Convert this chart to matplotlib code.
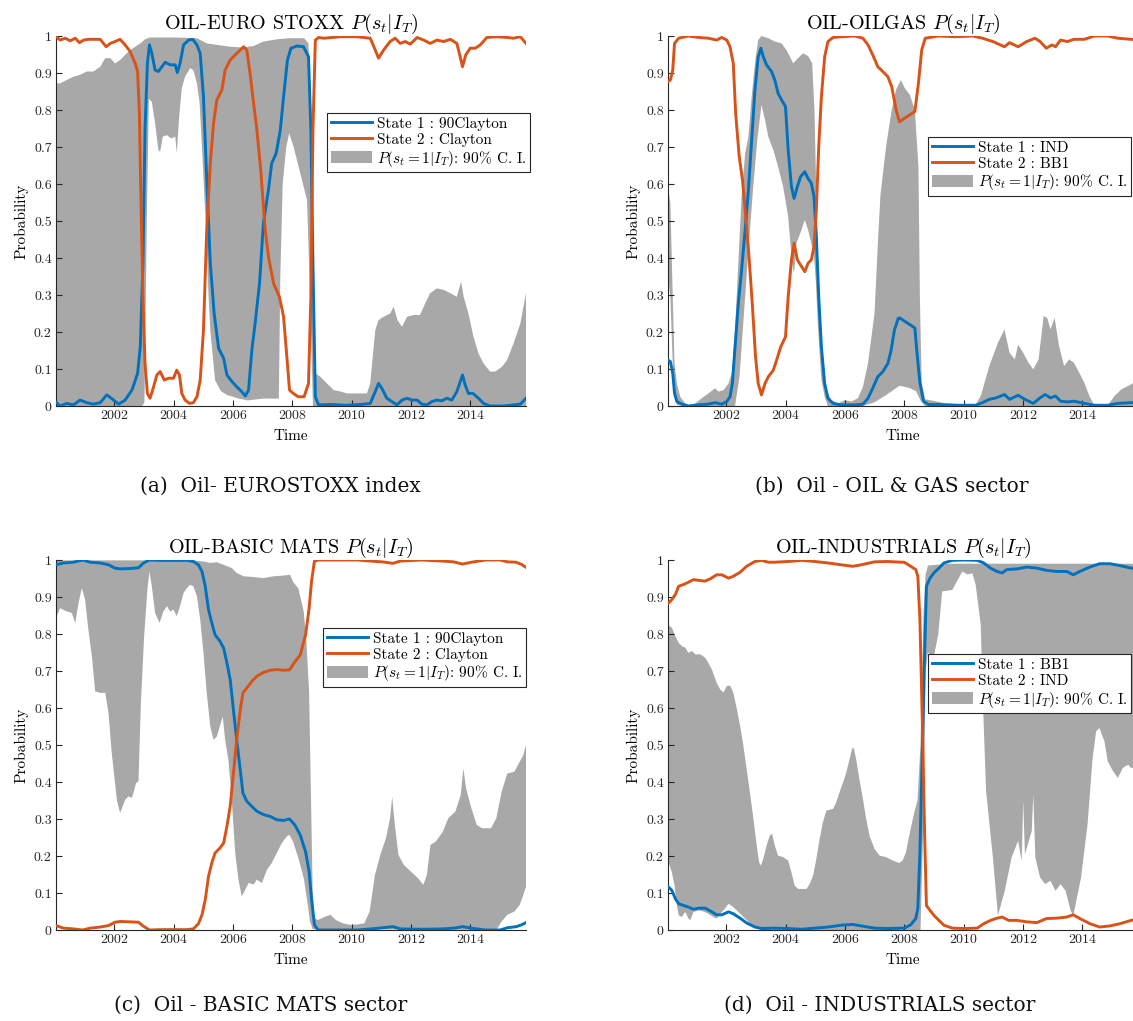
import numpy as np
import matplotlib
matplotlib.use("Agg")
import matplotlib.pyplot as plt
from matplotlib.lines import Line2D
from matplotlib.patches import Patch

plt.rcParams['font.family'] = ['cmr10', 'DejaVu Serif']
plt.rcParams['mathtext.fontset'] = 'cm'
plt.rcParams['axes.formatter.use_mathtext'] = True

BLUE = '#0072BD'
ORANGE = '#D95319'
GREY = '#A8A8A8'
DARK = '#262626'

x_ticks = [2002, 2004, 2006, 2008, 2010, 2012, 2014]
y_ticks = [0, 0.1, 0.2, 0.3, 0.4, 0.5, 0.6, 0.7, 0.8, 0.9, 1]
y_tick_labels = ['0', '0.1', '0.2', '0.3', '0.4', '0.5', '0.6', '0.7', '0.8', '0.9', '1']

#--------------------------------------------------------------#
# (a) OIL - EURO STOXX
eu_s1 = [(2000.04, 0.01), (2000.18, 0.0), (2000.40, 0.007), (2000.63, 0.003), (2000.85, 0.016),
         (2001.08, 0.009), (2001.30, 0.005), (2001.53, 0.009), (2001.75, 0.03), (2001.92, 0.02),
         (2002.15, 0.005), (2002.37, 0.016), (2002.60, 0.043), (2002.79, 0.088), (2002.88, 0.16),
         (2002.97, 0.386), (2003.04, 0.746), (2003.12, 0.926), (2003.19, 0.976), (2003.27, 0.953),
         (2003.38, 0.908), (2003.49, 0.904), (2003.61, 0.917), (2003.72, 0.929), (2003.89, 0.922),
         (2004.06, 0.922), (2004.13, 0.901), (2004.22, 0.926), (2004.34, 0.976), (2004.51, 0.989),
         (2004.65, 0.991), (2004.79, 0.976), (2004.90, 0.953), (2005.01, 0.836), (2005.12, 0.611),
         (2005.24, 0.386), (2005.37, 0.25), (2005.52, 0.156), (2005.69, 0.129), (2005.80, 0.084),
         (2005.97, 0.066), (2006.13, 0.052), (2006.30, 0.039), (2006.42, 0.027), (2006.53, 0.043),
         (2006.64, 0.151), (2006.75, 0.223), (2006.90, 0.332), (2007.03, 0.494), (2007.20, 0.584),
         (2007.31, 0.656), (2007.46, 0.683), (2007.60, 0.746), (2007.71, 0.836), (2007.84, 0.935),
         (2007.96, 0.967), (2008.16, 0.973), (2008.38, 0.971), (2008.55, 0.944), (2008.63, 0.746),
         (2008.70, 0.386), (2008.78, 0.025), (2008.89, 0.003), (2009.30, 0.004), (2009.80, 0.002),
         (2010.30, 0.004), (2010.63, 0.007), (2010.80, 0.039), (2010.91, 0.061), (2011.02, 0.048),
         (2011.19, 0.021), (2011.36, 0.012), (2011.53, 0.003), (2011.70, 0.016), (2011.87, 0.021),
         (2012.04, 0.016), (2012.21, 0.016), (2012.37, 0.005), (2012.54, 0.003), (2012.71, 0.012),
         (2012.88, 0.016), (2013.04, 0.014), (2013.21, 0.021), (2013.38, 0.016), (2013.55, 0.039),
         (2013.74, 0.084), (2013.83, 0.057), (2013.94, 0.034), (2014.09, 0.034), (2014.28, 0.021),
         (2014.45, 0.007), (2014.67, 0.0), (2015.12, 0.0), (2015.46, 0.003), (2015.69, 0.005),
         (2015.88, 0.021)]
eu_s2 = [(2000.04, 0.998), (2000.18, 0.989), (2000.35, 0.994), (2000.52, 0.987), (2000.69, 0.994),
         (2000.83, 0.982), (2000.97, 0.989), (2001.13, 0.991), (2001.30, 0.991), (2001.53, 0.991),
         (2001.73, 0.971), (2001.87, 0.98), (2002.03, 0.985), (2002.20, 0.991), (2002.37, 0.976),
         (2002.54, 0.958), (2002.71, 0.926), (2002.79, 0.904), (2002.85, 0.791), (2002.90, 0.566),
         (2002.97, 0.295), (2003.04, 0.115), (2003.12, 0.034), (2003.21, 0.021), (2003.33, 0.052),
         (2003.44, 0.084), (2003.55, 0.093), (2003.69, 0.07), (2003.83, 0.075), (2004.00, 0.075),
         (2004.11, 0.097), (2004.20, 0.084), (2004.28, 0.034), (2004.39, 0.016), (2004.54, 0.007),
         (2004.67, 0.009), (2004.79, 0.025), (2004.90, 0.07), (2005.01, 0.205), (2005.12, 0.476),
         (2005.24, 0.656), (2005.35, 0.764), (2005.46, 0.827), (2005.63, 0.854), (2005.74, 0.908),
         (2005.91, 0.935), (2006.08, 0.949), (2006.25, 0.962), (2006.36, 0.971), (2006.47, 0.962),
         (2006.58, 0.899), (2006.70, 0.818), (2006.81, 0.746), (2006.94, 0.638), (2007.09, 0.476),
         (2007.20, 0.404), (2007.37, 0.332), (2007.57, 0.295), (2007.71, 0.241), (2007.82, 0.133),
         (2007.91, 0.043), (2008.04, 0.034), (2008.20, 0.025), (2008.40, 0.025), (2008.55, 0.061),
         (2008.63, 0.295), (2008.70, 0.746), (2008.78, 0.989), (2008.89, 0.996), (2009.07, 0.994),
         (2009.63, 0.998), (2010.18, 0.998), (2010.63, 0.994), (2010.80, 0.962), (2010.91, 0.94),
         (2011.08, 0.962), (2011.30, 0.985), (2011.47, 0.994), (2011.64, 0.98), (2011.81, 0.985),
         (2011.98, 0.978), (2012.21, 0.996), (2012.43, 0.989), (2012.65, 0.98), (2012.88, 0.989),
         (2013.10, 0.985), (2013.33, 0.991), (2013.55, 0.98), (2013.66, 0.944), (2013.74, 0.917),
         (2013.85, 0.949), (2014.00, 0.967), (2014.17, 0.967), (2014.34, 0.976), (2014.56, 0.996),
         (2014.90, 0.998), (2015.24, 0.996), (2015.46, 0.994), (2015.69, 0.998), (2015.88, 0.98)]
eu_hi = [(2000.04, 0.872), (2000.18, 0.872), (2000.40, 0.881), (2000.63, 0.89), (2000.85, 0.895),
         (2001.08, 0.904), (2001.30, 0.904), (2001.53, 0.917), (2001.70, 0.94), (2001.87, 0.94),
         (2002.03, 0.926), (2002.20, 0.935), (2002.37, 0.949), (2002.54, 0.962), (2002.71, 0.971),
         (2002.88, 0.98), (2003.04, 0.991), (2003.21, 0.996), (2004.00, 0.996), (2004.50, 0.995),
         (2004.79, 0.994), (2005.12, 0.98), (2005.46, 0.976), (2005.91, 0.971), (2006.36, 0.969),
         (2006.70, 0.973), (2007.03, 0.985), (2007.48, 0.991), (2007.93, 0.994), (2008.40, 0.994),
         (2008.55, 0.98), (2008.62, 0.85), (2008.68, 0.5), (2008.74, 0.12), (2008.78, 0.088),
         (2008.95, 0.079), (2009.17, 0.061), (2009.40, 0.043), (2009.63, 0.039), (2009.85, 0.034),
         (2010.18, 0.034), (2010.52, 0.034), (2010.63, 0.061), (2010.80, 0.205), (2010.91, 0.232),
         (2011.08, 0.241), (2011.30, 0.25), (2011.42, 0.268), (2011.55, 0.232), (2011.70, 0.214),
         (2011.87, 0.241), (2012.09, 0.246), (2012.31, 0.246), (2012.48, 0.277), (2012.65, 0.305),
         (2012.88, 0.318), (2013.10, 0.314), (2013.33, 0.305), (2013.55, 0.295), (2013.69, 0.336),
         (2013.78, 0.295), (2013.94, 0.25), (2014.11, 0.187), (2014.28, 0.142), (2014.45, 0.115),
         (2014.67, 0.093), (2014.84, 0.093), (2015.07, 0.106), (2015.24, 0.124), (2015.46, 0.169),
         (2015.69, 0.223), (2015.88, 0.305)]
eu_lo = [(2000.04, 0.0), (2002.95, 0.0), (2003.02, 0.01), (2003.10, 0.5), (2003.17, 0.83),
         (2003.27, 0.822), (2003.38, 0.764), (2003.49, 0.692), (2003.55, 0.687), (2003.64, 0.728),
         (2003.78, 0.732), (2003.92, 0.723), (2004.06, 0.728), (2004.11, 0.683), (2004.20, 0.791),
         (2004.28, 0.859), (2004.39, 0.89), (2004.56, 0.913), (2004.67, 0.908), (2004.79, 0.872),
         (2004.88, 0.818), (2004.96, 0.70), (2005.05, 0.55), (2005.10, 0.476), (2005.18, 0.3),
         (2005.24, 0.205), (2005.40, 0.07), (2005.60, 0.04), (2005.80, 0.03), (2006.20, 0.02),
         (2006.50, 0.015), (2007.00, 0.02), (2007.55, 0.02), (2007.60, 0.35), (2007.68, 0.6),
         (2007.80, 0.70), (2007.90, 0.737), (2008.05, 0.70), (2008.30, 0.62), (2008.50, 0.557),
         (2008.60, 0.3), (2008.70, 0.0), (2015.88, 0.0)]

#--------------------------------------------------------------#
# (b) OIL - OILGAS
og_s1 = [(2000.04, 0.124), (2000.12, 0.12), (2000.20, 0.088), (2000.26, 0.034), (2000.34, 0.012),
         (2000.51, 0.005), (2000.73, 0.0), (2001.07, 0.003), (2001.40, 0.005), (2001.63, 0.009),
         (2001.85, 0.005), (2002.02, 0.012), (2002.13, 0.025), (2002.21, 0.061), (2002.30, 0.16),
         (2002.41, 0.277), (2002.52, 0.368), (2002.64, 0.476), (2002.75, 0.584), (2002.86, 0.719),
         (2002.97, 0.854), (2003.08, 0.944), (2003.17, 0.967), (2003.25, 0.944), (2003.36, 0.922),
         (2003.53, 0.904), (2003.64, 0.881), (2003.75, 0.845), (2003.87, 0.827), (2004.00, 0.809),
         (2004.09, 0.692), (2004.20, 0.593), (2004.29, 0.561), (2004.40, 0.593), (2004.51, 0.62),
         (2004.65, 0.633), (2004.76, 0.615), (2004.87, 0.602), (2004.96, 0.566), (2005.04, 0.458),
         (2005.12, 0.295), (2005.21, 0.16), (2005.32, 0.061), (2005.43, 0.021), (2005.60, 0.007),
         (2005.88, 0.003), (2006.33, 0.003), (2006.61, 0.005), (2006.78, 0.021), (2006.94, 0.048),
         (2007.11, 0.079), (2007.28, 0.093), (2007.45, 0.115), (2007.56, 0.151), (2007.67, 0.205),
         (2007.80, 0.237), (2007.85, 0.238), (2008.02, 0.229), (2008.19, 0.22), (2008.36, 0.211),
         (2008.42, 0.153), (2008.53, 0.063), (2008.65, 0.013), (2008.82, 0.004), (2009.16, 0.004),
         (2009.73, 0.002), (2010.41, 0.002), (2010.64, 0.009), (2010.87, 0.018), (2011.10, 0.022),
         (2011.38, 0.031), (2011.55, 0.018), (2011.84, 0.029), (2012.07, 0.018), (2012.35, 0.007),
         (2012.58, 0.022), (2012.75, 0.031), (2012.93, 0.022), (2013.10, 0.027), (2013.27, 0.013),
         (2013.50, 0.011), (2013.72, 0.013), (2014.07, 0.007), (2014.41, 0.002), (2014.86, 0.002),
         (2015.20, 0.007), (2015.64, 0.009), (2015.88, 0.01)]
og_s2 = [(2000.04, 0.877), (2000.12, 0.881), (2000.20, 0.908), (2000.26, 0.98), (2000.40, 0.994),
         (2000.73, 1.0), (2001.07, 0.996), (2001.40, 0.994), (2001.68, 0.989), (2001.85, 0.996),
         (2002.02, 0.989), (2002.13, 0.971), (2002.24, 0.926), (2002.32, 0.791), (2002.44, 0.674),
         (2002.55, 0.611), (2002.66, 0.512), (2002.77, 0.404), (2002.88, 0.277), (2002.99, 0.133),
         (2003.08, 0.061), (2003.19, 0.03), (2003.31, 0.061), (2003.42, 0.079), (2003.59, 0.097),
         (2003.70, 0.124), (2003.84, 0.16), (2004.00, 0.187), (2004.09, 0.295), (2004.20, 0.395),
         (2004.29, 0.44), (2004.40, 0.395), (2004.54, 0.377), (2004.65, 0.363), (2004.76, 0.386),
         (2004.87, 0.395), (2004.96, 0.431), (2005.04, 0.53), (2005.12, 0.701), (2005.21, 0.836),
         (2005.32, 0.944), (2005.43, 0.985), (2005.60, 0.996), (2005.88, 0.998), (2006.33, 1.0),
         (2006.61, 0.994), (2006.78, 0.976), (2006.94, 0.949), (2007.11, 0.917), (2007.28, 0.904),
         (2007.45, 0.89), (2007.58, 0.863), (2007.73, 0.8), (2007.84, 0.768), (2008.02, 0.778),
         (2008.36, 0.796), (2008.48, 0.872), (2008.59, 0.962), (2008.71, 0.994), (2009.16, 1.0),
         (2009.73, 0.998), (2010.30, 1.0), (2010.64, 0.994), (2010.99, 0.985), (2011.38, 0.971),
         (2011.55, 0.982), (2011.84, 0.971), (2012.13, 0.985), (2012.41, 0.994), (2012.58, 0.985),
         (2012.79, 0.967), (2012.98, 0.976), (2013.10, 0.971), (2013.27, 0.989), (2013.50, 0.985),
         (2013.72, 0.991), (2014.07, 0.991), (2014.41, 1.0), (2014.86, 1.0), (2015.20, 0.994),
         (2015.64, 0.991), (2015.88, 0.99)]
og_hi = [(2000.04, 0.593), (2000.12, 0.548), (2000.20, 0.295), (2000.26, 0.115), (2000.34, 0.061),
         (2000.45, 0.025), (2000.62, 0.007), (2000.73, 0.0), (2000.96, 0.007), (2001.18, 0.021),
         (2001.40, 0.034), (2001.63, 0.048), (2001.74, 0.039), (2001.91, 0.043), (2002.08, 0.061),
         (2002.19, 0.088), (2002.30, 0.205), (2002.41, 0.386), (2002.52, 0.566), (2002.64, 0.683),
         (2002.75, 0.728), (2002.86, 0.836), (2002.97, 0.926), (2003.08, 0.989), (2003.19, 1.0),
         (2003.42, 0.994), (2003.64, 0.985), (2003.87, 0.98), (2004.03, 0.962), (2004.15, 0.944),
         (2004.26, 0.926), (2004.42, 0.94), (2004.59, 0.953), (2004.76, 0.946), (2004.90, 0.926),
         (2004.98, 0.791), (2005.04, 0.566), (2005.10, 0.386), (2005.19, 0.205), (2005.26, 0.115),
         (2005.38, 0.043), (2005.54, 0.016), (2005.77, 0.007), (2006.00, 0.016), (2006.22, 0.012),
         (2006.44, 0.021), (2006.61, 0.052), (2006.78, 0.115), (2007.00, 0.25), (2007.12, 0.45),
         (2007.20, 0.57), (2007.39, 0.701), (2007.56, 0.791), (2007.72, 0.854), (2007.89, 0.881),
         (2008.02, 0.859), (2008.19, 0.841), (2008.36, 0.8), (2008.48, 0.647), (2008.53, 0.288),
         (2008.59, 0.063), (2008.71, 0.018), (2009.05, 0.013), (2009.39, 0.007), (2010.41, 0.004),
         (2010.58, 0.027), (2010.87, 0.108), (2011.16, 0.171), (2011.38, 0.207), (2011.55, 0.144),
         (2011.73, 0.126), (2011.84, 0.166), (2012.01, 0.144), (2012.19, 0.117), (2012.35, 0.099),
         (2012.53, 0.126), (2012.70, 0.243), (2012.82, 0.238), (2012.93, 0.207), (2013.07, 0.238),
         (2013.22, 0.162), (2013.39, 0.108), (2013.56, 0.126), (2013.72, 0.117), (2013.90, 0.09),
         (2014.07, 0.063), (2014.24, 0.027), (2014.41, 0.002), (2014.86, 0.002), (2015.09, 0.027),
         (2015.32, 0.045), (2015.64, 0.058), (2015.88, 0.07)]
og_lo = [(2000.04, 0.35), (2000.12, 0.295), (2000.20, 0.115), (2000.26, 0.025), (2000.34, 0.003),
         (2000.50, 0.0), (2002.30, 0.0), (2002.45, 0.08), (2002.60, 0.25), (2002.75, 0.42),
         (2002.90, 0.58), (2003.05, 0.72), (2003.19, 0.814), (2003.31, 0.773), (2003.42, 0.728),
         (2003.59, 0.692), (2003.75, 0.647), (2003.92, 0.593), (2004.09, 0.512), (2004.22, 0.386),
         (2004.29, 0.359), (2004.37, 0.44), (2004.54, 0.476), (2004.65, 0.503), (2004.76, 0.476),
         (2004.87, 0.44), (2004.96, 0.404), (2005.02, 0.34), (2005.10, 0.205), (2005.21, 0.07),
         (2005.32, 0.025), (2005.43, 0.0), (2006.60, 0.0), (2007.00, 0.01), (2007.40, 0.03),
         (2007.85, 0.055), (2008.20, 0.048), (2008.40, 0.04), (2008.55, 0.015), (2008.70, 0.0),
         (2015.88, 0.0)]

#--------------------------------------------------------------#
# (c) OIL - BASIC MATS
bm_s1 = [(2000.04, 0.987), (2000.29, 0.992), (2000.63, 0.994), (2000.94, 1.0), (2001.19, 0.994),
         (2001.53, 0.992), (2001.81, 0.987), (2002.03, 0.978), (2002.20, 0.976), (2002.54, 0.977),
         (2002.82, 0.979), (2002.99, 0.992), (2003.19, 1.0), (2003.55, 0.999), (2004.00, 0.999),
         (2004.45, 0.999), (2004.67, 0.996), (2004.84, 0.987), (2004.96, 0.969), (2005.07, 0.929),
         (2005.18, 0.866), (2005.29, 0.83), (2005.40, 0.798), (2005.57, 0.78), (2005.69, 0.762),
         (2005.80, 0.722), (2005.91, 0.677), (2006.02, 0.595), (2006.13, 0.514), (2006.25, 0.433),
         (2006.34, 0.37), (2006.47, 0.348), (2006.64, 0.334), (2006.81, 0.321), (2007.03, 0.312),
         (2007.26, 0.307), (2007.48, 0.298), (2007.71, 0.296), (2007.91, 0.3), (2008.09, 0.284),
         (2008.27, 0.257), (2008.45, 0.212), (2008.57, 0.158), (2008.65, 0.086), (2008.75, 0.014),
         (2008.87, 0.0), (2009.59, 0.0), (2010.19, 0.0), (2010.67, 0.003), (2011.03, 0.006),
         (2011.40, 0.009), (2011.64, 0.003), (2012.36, 0.002), (2013.08, 0.003), (2013.44, 0.005),
         (2013.74, 0.009), (2014.04, 0.005), (2014.52, 0.0), (2015.01, 0.0), (2015.25, 0.006),
         (2015.55, 0.009), (2015.73, 0.014), (2015.88, 0.02)]
bm_s2 = [(2000.04, 0.012), (2000.29, 0.005), (2000.63, 0.003), (2000.94, 0.0), (2001.19, 0.005),
         (2001.53, 0.008), (2001.81, 0.012), (2002.03, 0.021), (2002.20, 0.023), (2002.54, 0.022),
         (2002.82, 0.021), (2002.99, 0.01), (2003.19, 0.0), (2003.55, 0.001), (2004.45, 0.001),
         (2004.67, 0.003), (2004.84, 0.017), (2004.96, 0.041), (2005.07, 0.082), (2005.18, 0.145),
         (2005.29, 0.181), (2005.40, 0.208), (2005.57, 0.222), (2005.69, 0.235), (2005.80, 0.28),
         (2005.91, 0.334), (2006.02, 0.424), (2006.13, 0.514), (2006.25, 0.595), (2006.34, 0.641),
         (2006.47, 0.654), (2006.64, 0.672), (2006.81, 0.686), (2007.03, 0.696), (2007.26, 0.702),
         (2007.48, 0.704), (2007.71, 0.702), (2007.91, 0.703), (2008.09, 0.725), (2008.27, 0.743),
         (2008.45, 0.797), (2008.57, 0.869), (2008.65, 0.941), (2008.75, 0.997), (2008.87, 1.0),
         (2010.19, 1.0), (2010.67, 0.997), (2011.03, 0.995), (2011.40, 0.991), (2011.64, 0.997),
         (2012.36, 1.0), (2013.08, 0.997), (2013.44, 0.995), (2013.74, 0.989), (2014.04, 0.994),
         (2014.52, 1.0), (2015.01, 1.0), (2015.25, 0.995), (2015.55, 0.994), (2015.73, 0.988),
         (2015.88, 0.98)]
bm_hi = [(2000.04, 0.999), (2004.60, 0.999), (2005.01, 0.996), (2005.24, 0.992), (2005.46, 0.994),
         (2005.69, 0.987), (2005.97, 0.978), (2006.13, 0.965), (2006.36, 0.956), (2006.70, 0.954),
         (2007.03, 0.951), (2007.37, 0.956), (2007.71, 0.958), (2007.93, 0.96), (2008.03, 0.941),
         (2008.21, 0.923), (2008.39, 0.86), (2008.48, 0.779), (2008.57, 0.644), (2008.63, 0.374),
         (2008.69, 0.104), (2008.75, 0.032), (2008.87, 0.027), (2009.11, 0.036), (2009.29, 0.041),
         (2009.47, 0.027), (2009.71, 0.018), (2009.95, 0.014), (2010.19, 0.015), (2010.43, 0.018),
         (2010.61, 0.05), (2010.79, 0.149), (2010.97, 0.203), (2011.16, 0.248), (2011.30, 0.302),
         (2011.37, 0.36), (2011.46, 0.284), (2011.58, 0.203), (2011.76, 0.176), (2012.00, 0.158),
         (2012.24, 0.14), (2012.42, 0.122), (2012.54, 0.149), (2012.66, 0.23), (2012.84, 0.239),
         (2013.08, 0.266), (2013.26, 0.302), (2013.50, 0.32), (2013.68, 0.365), (2013.77, 0.437),
         (2013.86, 0.383), (2014.04, 0.329), (2014.22, 0.284), (2014.40, 0.275), (2014.70, 0.275),
         (2014.88, 0.302), (2015.06, 0.374), (2015.25, 0.423), (2015.49, 0.428), (2015.67, 0.455),
         (2015.79, 0.473), (2015.88, 0.5)]
bm_lo = [(2000.04, 0.843), (2000.18, 0.87), (2000.40, 0.861), (2000.57, 0.857), (2000.69, 0.83),
         (2000.80, 0.884), (2000.91, 0.924), (2001.02, 0.893), (2001.13, 0.812), (2001.25, 0.74),
         (2001.36, 0.645), (2001.53, 0.641), (2001.70, 0.641), (2001.81, 0.586), (2001.92, 0.478),
         (2002.09, 0.352), (2002.20, 0.316), (2002.37, 0.352), (2002.48, 0.361), (2002.60, 0.357),
         (2002.74, 0.397), (2002.82, 0.402), (2002.90, 0.613), (2003.01, 0.793), (2003.12, 0.92),
         (2003.19, 0.969), (2003.27, 0.929), (2003.38, 0.857), (2003.53, 0.83), (2003.66, 0.861),
         (2003.78, 0.875), (2003.89, 0.861), (2004.00, 0.866), (2004.11, 0.848), (2004.22, 0.875),
         (2004.34, 0.911), (2004.45, 0.924), (2004.56, 0.933), (2004.67, 0.929), (2004.79, 0.902),
         (2004.90, 0.839), (2005.01, 0.749), (2005.12, 0.641), (2005.24, 0.55), (2005.35, 0.514),
         (2005.46, 0.523), (2005.66, 0.577), (2005.74, 0.514), (2005.85, 0.46), (2005.97, 0.343),
         (2006.08, 0.208), (2006.19, 0.136), (2006.30, 0.091), (2006.42, 0.109), (2006.53, 0.127),
         (2006.70, 0.123), (2006.81, 0.136), (2006.98, 0.127), (2007.15, 0.163), (2007.31, 0.181),
         (2007.48, 0.208), (2007.65, 0.235), (2007.82, 0.253), (2007.91, 0.257), (2008.03, 0.239),
         (2008.21, 0.194), (2008.39, 0.14), (2008.51, 0.077), (2008.60, 0.023), (2008.69, 0.002),
         (2014.88, 0.0), (2015.06, 0.023), (2015.25, 0.041), (2015.49, 0.05), (2015.67, 0.068),
         (2015.79, 0.095), (2015.88, 0.117)]

#--------------------------------------------------------------#
# (d) OIL - INDUSTRIALS
in_s1 = [(2000.06, 0.116), (2000.17, 0.107), (2000.29, 0.084), (2000.40, 0.071), (2000.57, 0.066),
         (2000.73, 0.062), (2000.90, 0.056), (2001.07, 0.059), (2001.29, 0.059), (2001.52, 0.049),
         (2001.68, 0.041), (2001.85, 0.041), (2002.08, 0.049), (2002.24, 0.044), (2002.47, 0.032),
         (2002.69, 0.019), (2002.97, 0.008), (2003.19, 0.004), (2003.64, 0.005), (2004.09, 0.004),
         (2004.54, 0.002), (2004.98, 0.005), (2005.43, 0.008), (2005.88, 0.013), (2006.27, 0.015),
         (2006.55, 0.011), (2007.00, 0.005), (2007.45, 0.004), (2007.89, 0.005), (2008.00, 0.005),
         (2008.22, 0.014), (2008.39, 0.031), (2008.46, 0.058), (2008.53, 0.21), (2008.61, 0.48),
         (2008.69, 0.749), (2008.75, 0.929), (2008.87, 0.951), (2009.00, 0.965), (2009.17, 0.978),
         (2009.34, 0.992), (2009.62, 0.999), (2010.01, 1.0), (2010.46, 0.999), (2010.68, 0.992),
         (2010.91, 0.978), (2011.13, 0.969), (2011.30, 0.965), (2011.46, 0.974), (2011.80, 0.976),
         (2012.13, 0.981), (2012.47, 0.978), (2012.80, 0.972), (2013.14, 0.969), (2013.48, 0.969),
         (2013.70, 0.96), (2013.92, 0.969), (2014.26, 0.981), (2014.59, 0.99), (2014.93, 0.99),
         (2015.27, 0.985), (2015.65, 0.978), (2015.88, 0.975)]
in_s2 = [(2000.06, 0.884), (2000.17, 0.893), (2000.29, 0.907), (2000.40, 0.929), (2000.57, 0.934),
         (2000.73, 0.94), (2000.90, 0.947), (2001.07, 0.945), (2001.29, 0.943), (2001.46, 0.949),
         (2001.68, 0.96), (2001.85, 0.96), (2002.08, 0.951), (2002.24, 0.956), (2002.47, 0.967),
         (2002.69, 0.983), (2002.97, 0.996), (2003.19, 0.999), (2003.42, 0.994), (2003.64, 0.994),
         (2004.09, 0.996), (2004.54, 0.999), (2004.98, 0.996), (2005.43, 0.992), (2005.88, 0.987),
         (2006.27, 0.983), (2006.55, 0.987), (2007.00, 0.995), (2007.45, 0.996), (2007.89, 0.994),
         (2008.00, 0.994), (2008.22, 0.983), (2008.39, 0.974), (2008.46, 0.956), (2008.53, 0.839),
         (2008.61, 0.57), (2008.69, 0.255), (2008.75, 0.066), (2008.87, 0.053), (2009.00, 0.04),
         (2009.17, 0.026), (2009.34, 0.013), (2009.62, 0.005), (2010.01, 0.004), (2010.46, 0.005),
         (2010.68, 0.017), (2010.91, 0.026), (2011.13, 0.032), (2011.30, 0.035), (2011.52, 0.026),
         (2011.80, 0.026), (2012.13, 0.022), (2012.47, 0.02), (2012.80, 0.031), (2013.14, 0.032),
         (2013.48, 0.035), (2013.70, 0.041), (2013.92, 0.031), (2014.26, 0.017), (2014.59, 0.008),
         (2014.93, 0.011), (2015.27, 0.017), (2015.65, 0.026), (2015.88, 0.03)]
in_hi = [(2000.06, 0.823), (2000.17, 0.817), (2000.29, 0.794), (2000.40, 0.776), (2000.51, 0.767),
         (2000.62, 0.763), (2000.73, 0.749), (2000.85, 0.754), (2000.96, 0.745), (2001.13, 0.745),
         (2001.29, 0.736), (2001.40, 0.722), (2001.52, 0.704), (2001.68, 0.668), (2001.80, 0.65),
         (2001.91, 0.642), (2002.02, 0.659), (2002.13, 0.661), (2002.24, 0.642), (2002.36, 0.597),
         (2002.47, 0.552), (2002.58, 0.498), (2002.69, 0.435), (2002.80, 0.372), (2002.92, 0.3),
         (2003.03, 0.228), (2003.11, 0.183), (2003.17, 0.174), (2003.25, 0.192), (2003.36, 0.228),
         (2003.47, 0.255), (2003.55, 0.26), (2003.64, 0.228), (2003.75, 0.201), (2003.92, 0.197),
         (2004.09, 0.188), (2004.20, 0.156), (2004.31, 0.12), (2004.43, 0.111), (2004.71, 0.111),
         (2004.82, 0.125), (2004.93, 0.147), (2005.04, 0.192), (2005.15, 0.246), (2005.26, 0.291),
         (2005.38, 0.323), (2005.60, 0.327), (2005.71, 0.345), (2005.82, 0.372), (2005.94, 0.399),
         (2006.05, 0.426), (2006.16, 0.462), (2006.24, 0.489), (2006.30, 0.493), (2006.38, 0.462),
         (2006.49, 0.408), (2006.61, 0.354), (2006.72, 0.3), (2006.83, 0.255), (2007.00, 0.219),
         (2007.17, 0.201), (2007.39, 0.197), (2007.61, 0.188), (2007.83, 0.181), (2007.95, 0.188),
         (2008.06, 0.21), (2008.17, 0.255), (2008.34, 0.318), (2008.45, 0.35), (2008.55, 0.5),
         (2008.65, 0.85), (2008.72, 0.96), (2008.80, 0.985), (2009.50, 0.99), (2015.88, 0.99)]
in_lo = [(2000.06, 0.183), (2000.17, 0.156), (2000.26, 0.12), (2000.34, 0.066), (2000.40, 0.04),
         (2000.51, 0.035), (2000.62, 0.049), (2000.73, 0.031), (2000.79, 0.026), (2000.90, 0.049),
         (2001.07, 0.053), (2001.24, 0.05), (2001.40, 0.044), (2001.57, 0.035), (2001.68, 0.031),
         (2001.80, 0.044), (2001.96, 0.058), (2002.08, 0.071), (2002.24, 0.062), (2002.41, 0.049),
         (2002.64, 0.031), (2002.86, 0.013), (2003.08, 0.004), (2003.30, 0.0), (2008.55, 0.0),
         (2008.65, 0.3), (2008.72, 0.7), (2008.80, 0.75), (2008.99, 0.735), (2009.15, 0.8),
         (2009.28, 0.915), (2009.62, 0.919), (2009.96, 0.969), (2010.13, 0.961), (2010.30, 0.964),
         (2010.41, 0.933), (2010.58, 0.825), (2010.64, 0.645), (2010.76, 0.376), (2010.99, 0.196),
         (2011.16, 0.039), (2011.39, 0.106), (2011.62, 0.196), (2011.84, 0.241), (2011.96, 0.187),
         (2012.01, 0.349), (2012.07, 0.205), (2012.30, 0.268), (2012.35, 0.367), (2012.42, 0.196),
         (2012.58, 0.142), (2012.75, 0.124), (2012.93, 0.133), (2013.10, 0.106), (2013.27, 0.124),
         (2013.44, 0.106), (2013.61, 0.052), (2013.70, 0.039), (2013.78, 0.07), (2013.96, 0.142),
         (2014.18, 0.286), (2014.35, 0.465), (2014.47, 0.537), (2014.58, 0.546), (2014.75, 0.51),
         (2014.86, 0.456), (2015.04, 0.429), (2015.20, 0.411), (2015.37, 0.438), (2015.55, 0.447),
         (2015.64, 0.438), (2015.88, 0.44)]

titles = ['OIL-EURO STOXX $P(s_t|I_T)$', 'OIL-OILGAS $P(s_t|I_T)$',
          'OIL-BASIC MATS $P(s_t|I_T)$', 'OIL-INDUSTRIALS $P(s_t|I_T)$']
state1_names = ['90Clayton', 'IND', '90Clayton', 'BB1']
state2_names = ['Clayton', 'BB1', 'Clayton', 'IND']
captions = ['(a)  Oil- EUROSTOXX index', '(b)  Oil - OIL & GAS sector',
            '(c)  Oil - BASIC MATS sector', '(d)  Oil - INDUSTRIALS sector']


def unzip(pairs):
    a = np.array(pairs)
    return a[:, 0], a[:, 1]


def draw_panel(ax, s1, s2, hi, lo, title, n1, n2, leg_xy):
    th, vh = unzip(hi)
    tl, vl = unzip(lo)
    # banda de confianca (limite superior ida, inferior volta)
    ax.fill(np.concatenate([th, tl[::-1]]), np.concatenate([vh, vl[::-1]]),
            color=GREY, lw=0, zorder=1)
    t1, v1 = unzip(s1)
    t2, v2 = unzip(s2)
    ax.plot(t1, v1, color=BLUE, lw=2.1, zorder=3)
    ax.plot(t2, v2, color=ORANGE, lw=2.1, zorder=4)

    ax.set_xlim(2000.04, 2015.88)
    ax.set_ylim(0, 1)
    ax.set_xticks(x_ticks)
    ax.set_xticklabels([str(x) for x in x_ticks])
    ax.set_yticks(y_ticks)
    ax.set_yticklabels(y_tick_labels)
    ax.tick_params(direction='in', length=4, width=0.8, color=DARK, labelsize=10,
                   labelcolor=DARK, pad=3)
    for side in ['top', 'right']:
        ax.spines[side].set_visible(False)
    for side in ['left', 'bottom']:
        ax.spines[side].set_color(DARK)
        ax.spines[side].set_linewidth(0.8)
    ax.set_title(title, fontsize=14.5, pad=5)
    ax.set_ylabel('Probability', fontsize=11, labelpad=4)
    ax.set_xlabel('Time', fontsize=11, labelpad=5)

    handles = [Line2D([], [], color=BLUE, lw=2.1),
               Line2D([], [], color=ORANGE, lw=2.1),
               Patch(facecolor=GREY, edgecolor='none')]
    labels = ['State 1 : ' + n1, 'State 2 : ' + n2, '$P(s_t=1|I_T)$: 90% C. I.']
    leg = ax.legend(handles, labels, loc='upper left', bbox_to_anchor=leg_xy,
                    borderaxespad=0, fontsize=11, handlelength=2.7, handleheight=0.85,
                    handletextpad=0.3, labelspacing=0.1, borderpad=0.25,
                    fancybox=False, framealpha=1, edgecolor=DARK)
    leg.get_frame().set_linewidth(0.8)


fig = plt.figure(figsize=(11.33, 10.21), dpi=100)
W, H = 1133.0, 1021.0
boxes = [(56, 36), (668, 36), (56, 560), (668, 560)]
# as legendas da direita ficam encostadas na borda da figura
legend_pos = [(0.577, 0.792), (0.553, 0.728), (0.568, 0.817), (0.553, 0.746)]
panels = [(eu_s1, eu_s2, eu_hi, eu_lo), (og_s1, og_s2, og_hi, og_lo),
          (bm_s1, bm_s2, bm_hi, bm_lo), (in_s1, in_s2, in_hi, in_lo)]
caption_pos = [(280, 486), (892, 486), (261, 1005), (880, 1005)]

for i in range(4):
    x0, y0 = boxes[i]
    ax = fig.add_axes([x0 / W, 1 - (y0 + 370) / H, 470 / W, 370 / H])
    s1, s2, hi, lo = panels[i]
    draw_panel(ax, s1, s2, hi, lo, titles[i], state1_names[i], state2_names[i], legend_pos[i])
    cx, cy = caption_pos[i]
    fig.text(cx / W, 1 - cy / H, captions[i], ha='center', va='center',
             fontsize=14.5, family='DejaVu Serif', color='#111111')

fig.savefig('out.png', dpi=100)
